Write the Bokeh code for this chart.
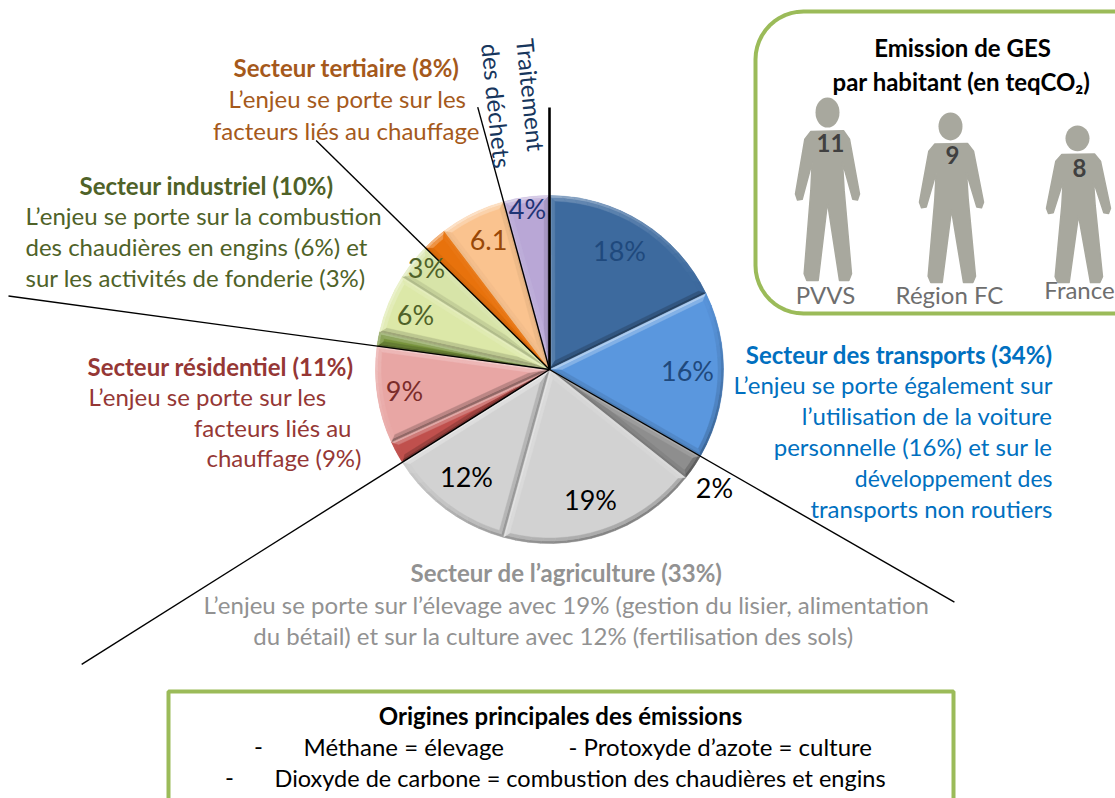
import math
from bokeh.plotting import figure
from bokeh.models import Range1d
from bokeh.core.properties import value
from bokeh.embed import file_html
from bokeh.resources import INLINE

# ---------- data ----------
slice_values = [17.8, 15.5, 2.4, 18.6, 11.75, 2.1, 9.0, 1.3, 5.5, 3.4, 2.3, 6.1, 4.25]
slice_colors = ["#3D6A9E", "#5A97DE", "#8E8E8E", "#D2D2D2", "#D2D2D2", "#C0504D", "#E8A6A4",
                "#77933C", "#DCE8A8", "#D7E4A8", "#E8720C", "#FAC38F", "#B9A7D6"]
slice_labels = ["18%", "16%", "2%", "19%", "12%", "", "9%", "", "6%", "3%", "", "6.1", "4%"]
label_colors = ["#1F497D", "#1F497D", "#000000", "#000000", "#000000", "#000000", "#7B2C2A",
                "#000000", "#4F6228", "#4F6228", "#000000", "#984807", "#1F3475"]
person_names = ["PVVS", "Région FC", "France"]
person_values = ["11", "9", "8"]

# ---------- layout (reference pixels) ----------
W, H = 1115, 798
CX, CY, R = 549, 369, 174
LABEL_POS = [(619, 251), (687, 371), (714, 488), (590, 500), (466, 477), None, (404, 391), None,
             (415, 315), (426, 268), None, (488, 240), (527, 209)]
LEADERS = {0: (262, 2.6), 2: (467, 1.4), 5: (553, 1.4), 7: (546, 1.4), 10: (327, 1.4), 12: (272, 1.4)}
GREEN = "#9BBB59"
FONT = "Lato"
TS = 24

def Y(py):
    return H - py

p = figure(width=W, height=H, output_backend="svg", toolbar_location=None,
           x_range=Range1d(0, W), y_range=Range1d(0, H), min_border=0,
           outline_line_color=None, background_fill_color="white")
p.axis.visible = False
p.grid.visible = False

def text(x, py, s, color="#000000", size=TS, bold=False, align="left", angle=0.0, baseline="middle"):
    p.text([x], [Y(py - 1)], text=[s], text_color=color, text_font=value(FONT),
           text_font_size=f"{size}px", text_font_style="bold" if bold else "normal",
           text_align=align, text_baseline=baseline, angle=angle)

# ---------- pie ----------
total = sum(slice_values)
cum = [0.0]
for v in slice_values:
    cum.append(cum[-1] + v / total * 2 * math.pi)

def pol(a, r):
    return CX + r * math.sin(a), Y(CY) + r * math.cos(a)

p.wedge([CX] * len(slice_values), [Y(CY)] * len(slice_values), radius=R,
        start_angle=[math.pi / 2 - c for c in cum[:-1]],
        end_angle=[math.pi / 2 - c for c in cum[1:]],
        direction="clock", fill_color=slice_colors, line_color=None)

def mix(c, t, f):
    a = [int(c[i:i + 2], 16) for i in (1, 3, 5)]
    b = [int(t[i:i + 2], 16) for i in (1, 3, 5)]
    return "#%02x%02x%02x" % tuple(round(x + (y - x) * f) for x, y in zip(a, b))

def ring(a0, a1, b):
    half = (a1 - a0) / 2
    mid = (a0 + a1) / 2
    d = min(b / max(math.sin(half), 1e-3), R * 0.45) if b > 0 else 0
    da = min(math.asin(min(b / R, .9)), half * 0.8)
    n = max(3, int((a1 - a0) / math.radians(4)))
    pts = [pol(mid, d)]
    for i in range(n + 1):
        pts.append(pol(a0 + da + (a1 - a0 - 2 * da) * i / n, R - b))
    return pts

xs, ys, cs = [], [], []
for i, col in enumerate(slice_colors):
    for b1, b2, k in ((0, 2.5, 1.0), (2.5, 5.5, 0.5)):
        A, B = ring(cum[i], cum[i + 1], b1), ring(cum[i], cum[i + 1], b2)
        m = len(A)
        for j in range(m):
            j2 = (j + 1) % m
            dx, dy = A[j2][0] - A[j][0], A[j2][1] - A[j][1]
            L = math.hypot(dx, dy) or 1
            nx, ny = -dy / L, dx / L
            s = (nx * -0.5 + ny * 0.86) * k
            c = mix(col, "#ffffff", 0.5 * s) if s > 0 else mix(col, "#000000", 0.38 * -s)
            xs.append([A[j][0], A[j2][0], B[j2][0], B[j][0]])
            ys.append([A[j][1], A[j2][1], B[j2][1], B[j][1]])
            cs.append(c)
p.patches(xs, ys, fill_color=cs, line_color=cs, line_width=0.4)

# leader lines continue the slice boundaries
for i, (length, lw) in LEADERS.items():
    x1, y1 = pol(cum[i], length)
    p.line([CX, x1], [Y(CY), y1], line_color="#000000", line_width=lw)

for lab, pos, col in zip(slice_labels, LABEL_POS, label_colors):
    if lab:
        text(pos[0], pos[1], lab, col, 27, align="center")

# ---------- sector texts ----------
BROWN, OLIVE, RED, BLUE, GREY = "#A5591B", "#4F6228", "#953735", "#0070C0", "#929292"
text(346, 68, "Secteur tertiaire (8%)", BROWN, TS, True, "center")
text(466, 99, "L’enjeu se porte sur les", BROWN, TS, align="right")
text(479, 131, "facteurs liés au chauffage", BROWN, TS, align="right")

text(79, 186, "Secteur industriel (10%)", OLIVE, TS, True)
text(25, 216, "L’enjeu se porte sur la combustion", OLIVE, TS)
text(25, 247, "des chaudières en engins (6%) et", OLIVE, TS)
text(25, 278, "sur les activités de fonderie (3%)", OLIVE, TS)

text(87, 367, "Secteur résidentiel (11%)", RED, TS, True)
text(88, 397, "L’enjeu se porte sur les", RED, TS)
text(351, 428, "facteurs liés au", RED, TS, align="right")
text(361, 458, "chauffage (9%)", RED, TS, align="right")

text(1052, 355, "Secteur des transports (34%)", BLUE, TS, True, "right")
text(1052, 385, "L’enjeu se porte également sur", BLUE, TS, align="right")
text(1052, 416, "l’utilisation de la voiture", BLUE, TS, align="right")
text(1052, 447, "personnelle (16%) et sur le", BLUE, TS, align="right")
text(1052, 478, "développement des", BLUE, 23, align="right")
text(1052, 509, "transports non routiers", BLUE, TS, align="right")

text(566, 573, "Secteur de l’agriculture (33%)", GREY, TS, True, "center")
text(566, 605, "L’enjeu se porte sur l’élevage avec 19% (gestion du lisier, alimentation", GREY, TS, align="center")
text(553, 636, "du bétail) et sur la culture avec 12% (fertilisation des sols)", GREY, TS, align="center")

TILT = -math.pi / 2 + 0.1
text(525, 39, "Traitement", "#17365D", TS, angle=TILT)
text(490, 44, "des déchets", "#17365D", TS, angle=TILT)

# ---------- inhabitants box ----------
def rounded(xr, top, left, bottom, rad):
    px = [xr, left + rad]
    py = [top, top]
    for k in range(1, 13):
        a = math.pi / 2 * k / 12
        px.append(left + rad - rad * math.sin(a))
        py.append(top + rad - rad * math.cos(a))
    for k in range(0, 13):
        a = math.pi / 2 * k / 12
        px.append(left + rad - rad * math.cos(a))
        py.append(bottom - rad + rad * math.sin(a))
    px.append(xr)
    py.append(bottom)
    return px, [Y(v) for v in py]

bx, by = rounded(W + 5, 11, 755, 313, 48)
p.line(bx, by, line_color=GREEN, line_width=4)

text(962, 48, "Emission de GES", "#000000", TS, True, "center")
text(961, 82, "par habitant (en teqCO₂)", "#000000", TS, True, "center")

BODY = [(-50, 102), (48, 100), (66, 125), (96, 290), (90, 308), (76, 306), (45, 195), (50, 280),
        (72, 530), (64, 550), (36, 550), (0, 315), (-28, 550), (-62, 550), (-70, 530), (-50, 280),
        (-46, 195), (-76, 306), (-90, 308), (-96, 290), (-68, 125)]
SILHOUETTE = "#A8A89E"
persons = [(827, 97, 280, 827), (950, 112, 282, 951), (1077, 125, 282, 1078)]
for (hx, top, bot, bx0), name, val, (lx, ly), (vx, vy) in zip(
        persons, person_names, person_values,
        [(825, 295), (949, 295), (1079, 290)], [(830, 143), (952, 155), (1079, 168)]):
    h = bot - top
    px = [bx0 + q[0] / 3 for q in BODY]
    py = [Y(top + q[1] / 550 * h) for q in BODY]
    p.patches([px], [py], fill_color=SILHOUETTE, line_color=SILHOUETTE, line_width=1.5, line_join="round")
    p.ellipse([hx], [Y(top + 0.082 * h)], width=24, height=0.165 * h, fill_color=SILHOUETTE, line_color=None)
    text(vx, vy, val, "#404040", TS, True, "center")
    text(lx, ly, name, "#6E6E6E", TS, align="center")

# ---------- origins box ----------
ox = [168, 168, 953, 953]
oy = [Y(H + 5), Y(691), Y(691), Y(H + 5)]
p.line(ox, oy, line_color=GREEN, line_width=4)
text(560, 716, "Origines principales des émissions", "#000000", TS, True, "center")
text(258, 747, "-", "#000000", TS, align="center")
text(303, 747, "Méthane = élevage", "#000000", TS)
text(568, 747, "- Protoxyde d’azote = culture", "#000000", TS)
text(229, 778, "-", "#000000", TS, align="center")
text(274, 778, "Dioxyde de carbone = combustion des chaudières et engins", "#000000", 23.5)

open("out.html", "w").write(file_html(p, INLINE))
